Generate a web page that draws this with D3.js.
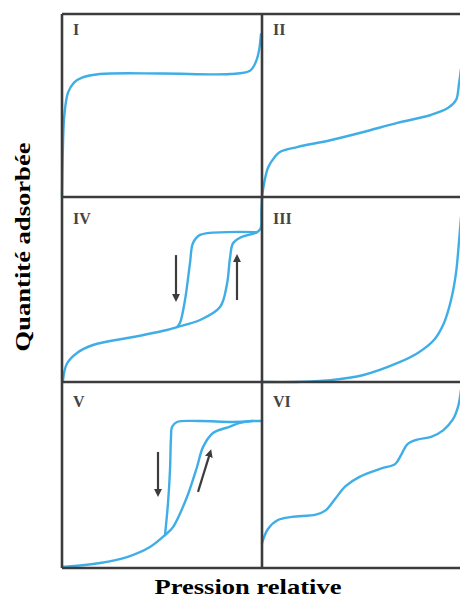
<!DOCTYPE html>
<html>
<head>
<meta charset="utf-8">
<script src="https://cdn.jsdelivr.net/npm/d3@7"></script>
<style>
  body { margin: 0; background: #fff; }
</style>
</head>
<body>
<div id="wrapper"></div>
<script>
// panel names, in reading order (row by row)
const panelNames = ['I', 'II', 'IV', 'III', 'V', 'VI'];

// curves: [relative pressure, adsorbed amount], both 0..1 inside each panel
const curveI = [[0, 0], [0.004, 0.25], [0.012, 0.45], [0.03, 0.57], [0.06, 0.625], [0.1, 0.652],
  [0.19, 0.672], [0.5, 0.675], [0.84, 0.672], [0.94, 0.69], [0.97, 0.74], [0.985, 0.8], [0.995, 0.89]];
const curveII = [[0, 0], [0.005, 0.04], [0.03, 0.16], [0.065, 0.22], [0.09, 0.246], [0.177, 0.273],
  [0.343, 0.31], [0.51, 0.355], [0.68, 0.405], [0.848, 0.448], [0.934, 0.486], [0.975, 0.53],
  [0.99, 0.62], [1.0, 0.7]];
const curveIVads = [[0.005, 0.01], [0.025, 0.1], [0.075, 0.157], [0.155, 0.2], [0.355, 0.243],
  [0.525, 0.281], [0.575, 0.297], [0.69, 0.335], [0.79, 0.405], [0.825, 0.53], [0.84, 0.67],
  [0.855, 0.75], [0.89, 0.78], [0.975, 0.81], [0.993, 0.83], [0.997, 0.92], [1.0, 1.0]];
const curveIVdes = [[0.575, 0.297], [0.59, 0.32], [0.615, 0.443], [0.64, 0.643], [0.655, 0.751],
  [0.69, 0.795], [0.825, 0.81], [0.975, 0.81]];
const curveIII = [[0, 0], [0.17, 0.0], [0.343, 0.01], [0.51, 0.038], [0.682, 0.103], [0.783, 0.157],
  [0.864, 0.227], [0.914, 0.318], [0.95, 0.443], [0.975, 0.59], [0.99, 0.76], [1.0, 0.89]];
const curveVads = [[0, 0.005], [0.19, 0.027], [0.325, 0.059], [0.44, 0.113], [0.515, 0.177],
  [0.555, 0.22], [0.625, 0.382], [0.675, 0.543], [0.705, 0.65], [0.755, 0.726], [0.84, 0.76],
  [0.89, 0.78], [0.95, 0.79], [1.0, 0.79]];
const curveVdes = [[0.515, 0.177], [0.53, 0.349], [0.54, 0.527], [0.545, 0.704], [0.55, 0.758],
  [0.575, 0.785], [0.69, 0.79], [0.855, 0.785], [0.95, 0.79]];
const curveVI = [[0, 0.134], [0.03, 0.21], [0.08, 0.258], [0.15, 0.275], [0.27, 0.287],
  [0.32, 0.31], [0.37, 0.375], [0.42, 0.44], [0.49, 0.49], [0.6, 0.535], [0.67, 0.56],
  [0.7, 0.61], [0.73, 0.665], [0.78, 0.69], [0.85, 0.705], [0.91, 0.74], [0.96, 0.8],
  [0.985, 0.866], [1.0, 0.957]];

// which curves go in which panel
const panelCurves = [
  [curveI], [curveII], [curveIVads, curveIVdes], [curveIII], [curveVads, curveVdes], [curveVI]
];

// hysteresis arrows: [panel index, from, to]
const arrows = [
  [2, [0.57, 0.686], [0.57, 0.454]],
  [2, [0.875, 0.443], [0.875, 0.67]],
  [4, [0.48, 0.624], [0.48, 0.403]],
  [4, [0.68, 0.409], [0.74, 0.618]]
];

const xTitle = 'Pression relative';
const yTitle = 'Quantité adsorbée';

// Layout
const width = 460;
const height = 600;
const colEdges = [62, 262, 461];
const rowEdges = [14, 197, 382, 568];
const labelDy = [21, 27, 25];

const lineColor = '#3c3c3c';
const curveColor = '#40aee6';

const wrapper = d3
  .select('#wrapper')
  .append('svg')
  .attr('width', width)
  .attr('height', height);

wrapper
  .append('defs')
  .append('marker')
  .attr('id', 'head')
  .attr('viewBox', '0 0 10 10')
  .attr('refX', 5)
  .attr('refY', 5)
  .attr('markerWidth', 3.6)
  .attr('markerHeight', 3.6)
  .attr('orient', 'auto')
  .append('path')
  .attr('d', 'M0,0 L10,5 L0,10 z')
  .attr('fill', lineColor);

const line = d3.line().curve(d3.curveCatmullRom.alpha(0.5));

panelNames.forEach((name, i) => {
  const row = Math.floor(i / 2);
  const col = i % 2;
  const xScale = d3.scaleLinear().domain([0, 1]).range([colEdges[col], colEdges[col + 1]]);
  const yScale = d3.scaleLinear().domain([0, 1]).range([rowEdges[row + 1], rowEdges[row]]);

  const g = wrapper.append('g').attr('class', 'panel');

  panelCurves[i].forEach((c) => {
    g.append('path')
      .attr('d', line.x((d) => xScale(d[0])).y((d) => yScale(d[1]))(c))
      .attr('fill', 'none')
      .attr('stroke', curveColor)
      .attr('stroke-width', 2.4)
      .attr('stroke-linecap', 'round');
  });

  arrows.filter((a) => a[0] === i).forEach((a) => {
    g.append('line')
      .attr('x1', xScale(a[1][0]))
      .attr('y1', yScale(a[1][1]))
      .attr('x2', xScale(a[2][0]))
      .attr('y2', yScale(a[2][1]))
      .attr('stroke', lineColor)
      .attr('stroke-width', 2.2)
      .attr('marker-end', 'url(#head)');
  });

  g.append('text')
    .attr('x', colEdges[col] + 11)
    .attr('y', rowEdges[row] + labelDy[row])
    .attr('font-family', '"Liberation Serif", "DejaVu Serif", serif')
    .attr('font-weight', 'bold')
    .attr('font-size', 16)
    .attr('fill', '#444')
    .text(name);
});

// frame and dividers
const frame = wrapper.append('g')
  .attr('stroke', lineColor)
  .attr('stroke-width', 2.6)
  .attr('fill', 'none');
colEdges.slice(0, 2).forEach((x) => {
  frame.append('line').attr('x1', x).attr('x2', x).attr('y1', rowEdges[0]).attr('y2', rowEdges[3]);
});
rowEdges.forEach((y) => {
  frame.append('line').attr('x1', colEdges[0]).attr('x2', width).attr('y1', y).attr('y2', y);
});

// axis titles
wrapper.append('text')
  .attr('x', 248)
  .attr('y', 594)
  .attr('text-anchor', 'middle')
  .attr('font-family', '"Liberation Serif", "DejaVu Serif", serif')
  .attr('font-weight', 'bold')
  .attr('font-size', 21)
  .attr('textLength', 187)
  .attr('lengthAdjust', 'spacingAndGlyphs')
  .attr('fill', '#000')
  .text(xTitle);

wrapper.append('text')
  .attr('transform', 'translate(30, 247) rotate(-90)')
  .attr('text-anchor', 'middle')
  .attr('font-family', '"Liberation Serif", "DejaVu Serif", serif')
  .attr('font-weight', 'bold')
  .attr('font-size', 22)
  .attr('textLength', 209)
  .attr('lengthAdjust', 'spacingAndGlyphs')
  .attr('fill', '#000')
  .text(yTitle);
</script>
</body>
</html>
